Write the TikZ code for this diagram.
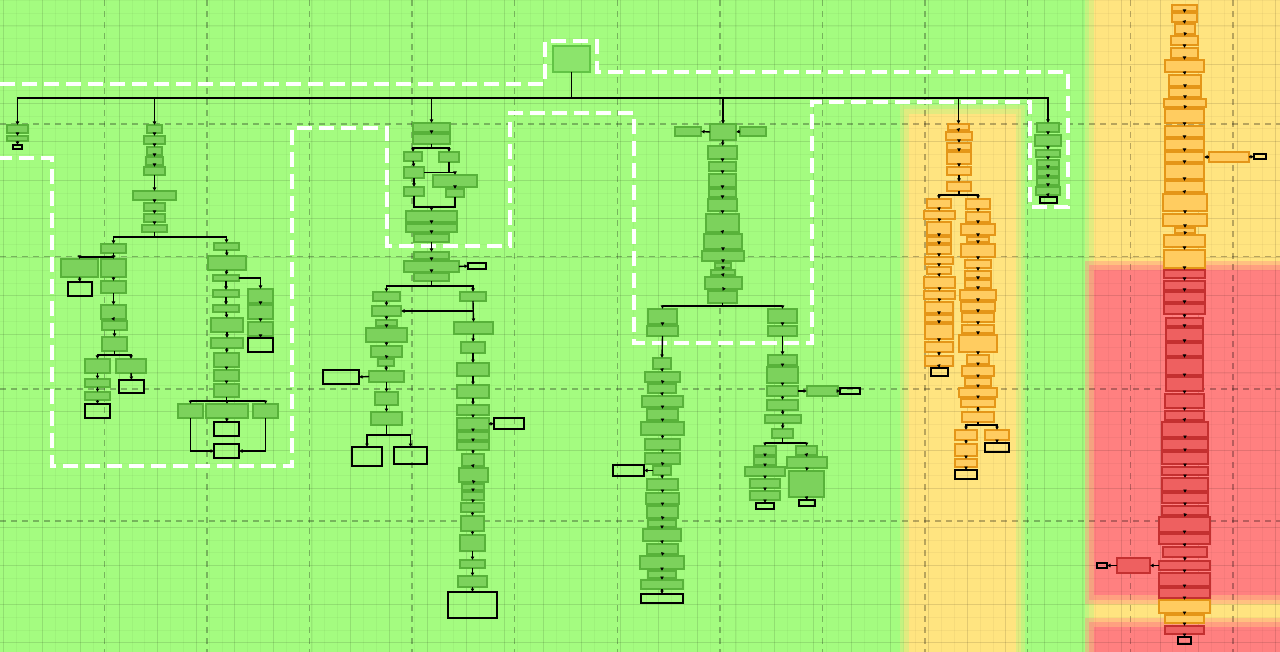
\documentclass[tikz,border=0pt]{standalone}
\usetikzlibrary{arrows.meta}
\definecolor{bgG}{RGB}{164,252,128}
\definecolor{zY}{RGB}{255,228,128}
\definecolor{zR}{RGB}{255,128,128}
\definecolor{ngF}{RGB}{124,210,92}
\definecolor{ngD}{RGB}{88,178,58}
\definecolor{noF}{RGB}{255,204,96}
\definecolor{noD}{RGB}{228,150,24}
\definecolor{nrF}{RGB}{238,96,96}
\definecolor{nrD}{RGB}{196,48,48}
\definecolor{rtF}{RGB}{140,228,108}
\definecolor{rtD}{RGB}{98,196,70}
\tikzset{
  nb/.style={inner sep=0pt, outer sep=0pt, line width=1.6pt},
  gN/.style={nb, fill=ngF, draw=ngD},
  oN/.style={nb, fill=noF, draw=noD},
  rN/.style={nb, fill=nrF, draw=nrD},
  tN/.style={nb, draw=black, line width=1.8pt},
  rootst/.style={nb, fill=rtF, draw=rtD, line width=2pt},
  arr/.style={draw=black, line width=1.4pt, -{Latex[length=3.5pt,width=4pt]}},
  ln/.style={draw=black, line width=1.4pt},
  fg/.style={draw=black, opacity=0.035, line width=0.8pt},
  mg/.style={draw=black, opacity=0.08, line width=1pt},
  dg/.style={draw=black, opacity=0.28, line width=1.5pt, dash pattern=on 6pt off 5pt},
  wdash/.style={draw=white, line width=4.5pt, dash pattern=on 15pt off 7pt}
}
\newcommand\stk[2]{%
  \foreach \sty/\xa/\ya/\xb/\yb [count=\i] in {#2} {%
    \node[\sty, minimum width={(\xb-\xa)*1pt}, minimum height={(\yb-\ya)*1pt}] (#1\i) at ({(\xa+\xb)/2},{(\ya+\yb)/2}) {};
    \ifnum\i>1 \pgfmathtruncatemacro\p{\i-1}\draw[arr] (#1\p.south) -- (#1\i.north);\fi
  }}
\newcommand\zone[5]{%
  \fill[#1,opacity=0.35] (#2-7,#3-7) rectangle (#4+7,#5+7);
  \fill[#1,opacity=0.5] (#2-3,#3-3) rectangle (#4+3,#5+3);
  \fill[#1] (#2+2,#3+2) rectangle (#4-2,#5-2);}
\begin{document}
\begin{tikzpicture}[x=1pt,y=-1pt]
\useasboundingbox (0,0) rectangle (1280,652);
\clip (0,0) rectangle (1280,652);
\fill[bgG] (0,0) rectangle (1280,652);
% zones
\zone{zY}{907}{112}{1018}{680}
\zone{zY}{1092}{-20}{1300}{680}
\zone{zR}{1092}{268}{1300}{597}
\zone{zR}{1092}{625}{1300}{680}
% grids
\foreach \i in {0,...,100} \draw[fg] ({3.5+12.85*\i},0) -- ++(0,652);
\foreach \j in {0,...,51} \draw[fg] (0,{0.3+12.85*\j}) -- ++(1280,0);
\foreach \i in {0,...,33} \draw[mg] ({3.5+38.55*\i},0) -- ++(0,652);
\foreach \j in {-1,...,16} \draw[mg] (0,{26+38.55*\j}) -- ++(1280,0);
\foreach \i in {0,...,11} \draw[dg] ({104.3+102.6*\i},0) -- ++(0,652);
\foreach \j in {0,...,3} \draw[dg] (0,{124+132.4*\j}) -- ++(1280,0);
% white dashed outline
\draw[wdash] (0,84) -- (545,84) -- (545,41) -- (597,41) -- (597,72) -- (1068,72) -- (1068,207) -- (1030,207) -- (1030,102) -- (812,102) -- (812,343) -- (634,343) -- (634,113) -- (510,113) -- (510,246) -- (387,246) -- (387,128) -- (292,128) -- (292,466) -- (52,466) -- (52,158) -- (0,158);
% root
\node[rootst, minimum width=37pt, minimum height=26pt] (root) at (571.5,59) {};
% column 1
\stk{c1n}{gN/7/125/28/133, gN/7/136/28/141, tN/13/145/22/149}
% column 2
\stk{c2m}{gN/147/125/162/133, gN/144/136/165/144, gN/147/147/162/155, gN/146/157/163/165, gN/144/167/165/175, gN/133/191/176/200, gN/144/203/165/211, gN/144/214/165/222, gN/142/225/167/232}
\stk{c2L}{gN/101/244/126/253}
\stk{c2LL}{gN/61/259/98/277, tN/68/282/92/296}
\stk{c2LR}{gN/101/259/126/277, gN/101/281/126/293, gN/101/305/126/319, gN/102/321/127/330, gN/102/337/127/351}
\stk{c2LRL}{gN/85/359/110/373, gN/85/379/110/387, gN/85/392/110/400, tN/85/404/110/418}
\stk{c2LRR}{gN/116/359/146/373, tN/119/380/144/393}
\stk{c2R}{gN/214/243/239/250, gN/208/256/246/270, gN/213/275/239/281, gN/213/290/239/297, gN/213/305/239/312, gN/211/318/243/332, gN/211/338/243/348, gN/214/353/239/367, gN/214/370/239/381, gN/214/384/239/397}
\stk{c2S}{gN/248/289/273/303, gN/248/305/273/319, gN/248/322/273/336, tN/248/338/273/352}
\stk{c2Xa}{gN/178/404/203/418}
\stk{c2Xb}{gN/206/404/248/418}
\stk{c2Xc}{gN/253/404/278/418}
\stk{c2Ta}{tN/214/422/239/436}
\stk{c2Tb}{tN/214/444/239/458}
\draw[arr] (c2m9.south) -- ++(0,5) -| (c2L1.north);
\draw[arr] (c2m9.south) -- ++(0,5) -| (c2R1.north);
\draw[arr] (c2L1.south) -- ++(0,4) -| (c2LL1.north);
\draw[arr] (c2L1.south) -- ++(0,4) -| (c2LR1.north);
\draw[arr] (c2LR5.south) -- ++(0,4) -| (c2LRL1.north);
\draw[arr] (c2LR5.south) -- ++(0,4) -| (c2LRR1.north);
\draw[arr] (c2R3.east) -| (c2S1.north);
\draw[arr] (c2R10.south) -- ++(0,4) -| (c2Xa1.north);
\draw[arr] (c2R10.south) -- ++(0,4) -| (c2Xb1.north);
\draw[arr] (c2R10.south) -- ++(0,4) -| (c2Xc1.north);
\draw[arr] (c2Xb1.south) -- (c2Ta1.north);
\draw[arr] (c2Xa1.south) |- (c2Tb1.west);
\draw[arr] (c2Xc1.south) |- (c2Tb1.east);
% column 3
\stk{c3a}{gN/413/123/450/132, gN/413/134/450/144}
\stk{c3La}{gN/404/152/422/161}
\stk{c3Ra}{gN/439/152/459/162}
\stk{c3Lb}{gN/404/167/424/178}
\stk{c3W}{gN/433/175/477/187, gN/446/189/464/197}
\stk{c3Lc}{gN/404/187/424/196}
\stk{c3M}{gN/406/211/457/222, gN/406/224/457/232, gN/414/234/449/242, gN/414/252/449/259, gN/404/261/459/272, gN/414/273/449/281}
\stk{c3t}{tN/468/263/486/269}
\stk{c3L}{gN/373/292/400/301, gN/372/306/401/316, gN/376/320/397/326, gN/366/328/407/342, gN/371/346/402/357, gN/378/359/394/366, gN/369/371/404/382, gN/375/392/398/405, gN/371/412/402/425}
\stk{c3tL}{tN/323/370/359/384}
\stk{c3tA}{tN/352/447/382/466}
\stk{c3tB}{tN/394/447/427/464}
\stk{c3R}{gN/460/292/486/301, gN/454/322/493/334, gN/461/342/485/353, gN/457/363/489/376, gN/457/385/489/398, gN/457/405/489/415, gN/457/418/489/430, gN/457/432/489/440, gN/457/442/489/450, gN/462/454/484/466, gN/459/468/488/482, gN/462/484/484/490, gN/462/492/484/500, gN/461/503/484/512, gN/461/516/484/531, gN/460/535/485/551, gN/460/560/485/568, gN/458/576/487/587, tN/448/592/497/618}
\stk{c3tR}{tN/494/418/524/429}
\draw[arr] (c3a2.south) -- ++(0,4) -| (c3La1.north);
\draw[arr] (c3a2.south) -- ++(0,4) -| (c3Ra1.north);
\draw[arr] (c3La1.south) -- (c3Lb1.north);
\draw[arr] (c3Lb1.south) -- (c3Lc1.north);
\draw[arr] (c3Lb1.east) -| (c3W1.north);
\draw[ln] (c3Ra1.south) -- (c3Ra1.south |- c3Lb1.east);
\coordinate (c3j) at (431.5,207);
\draw[ln] (c3Lc1.south) |- (c3j);
\draw[ln] (c3W2.south) |- (c3j);
\draw[arr] (c3j) -- (c3M1.north);
\draw[arr] (c3M5.east) -- (c3t1.west);
\draw[arr] (c3M6.south) -- ++(0,5) -| (c3L1.north);
\draw[arr] (c3M6.south) -- ++(0,5) -| (c3R1.north);
\draw[arr] (c3L7.west) -- (c3tL1.east);
\draw[arr] (c3L9.south) -- ++(0,10) -| (c3tA1.north);
\draw[arr] (c3L9.south) -- ++(0,10) -| (c3tB1.north);
\draw[arr] (c3R1.south |- c3L2.east) -- (c3L2.east);
\draw[arr] (c3R7.east) -- (c3tR1.west);
% column 4
\stk{c4a}{gN/710/124/736/140, gN/708/146/737/159, gN/709/162/736/171, gN/709/174/736/187, gN/709/189/736/197, gN/708/199/737/211, gN/706/214/739/232, gN/704/234/742/249, gN/702/251/744/261, gN/715/263/731/268, gN/711/270/735/275, gN/705/277/742/289, gN/708/291/737/303}
\stk{c4s}{gN/675/127/701/136}
\stk{c4u}{gN/740/127/766/136}
\stk{c4L}{gN/648/309/677/324, gN/647/326/678/336, gN/653/358/671/369, gN/645/372/680/382, gN/648/384/676/393, gN/642/396/683/407, gN/647/409/678/420, gN/641/422/684/435, gN/645/439/680/450, gN/645/453/680/464, gN/653/466/671/475, gN/647/479/678/490, gN/646/493/679/504, gN/647/506/678/518, gN/648/520/676/527, gN/643/529/681/541, gN/647/544/678/554, gN/640/556/684/569, gN/648/571/676/578, gN/641/580/683/589, tN/641/594/683/603}
\stk{c4tL}{tN/613/465/644/476}
\stk{c4R}{gN/768/309/797/323, gN/768/326/797/336, gN/768/355/797/365, gN/767/367/798/383, gN/767/386/798/396, gN/767/400/798/410, gN/765/415/801/423, gN/772/429/793/438}
\stk{c4v}{gN/807/386/838/396}
\stk{c4tR}{tN/840/388/860/394}
\stk{c4RL}{gN/754/446/776/455, gN/754/457/776/465, gN/745/467/785/476, gN/750/479/780/488, gN/750/491/780/500, tN/756/503/774/509}
\stk{c4RR}{gN/796/446/817/455, gN/787/457/827/468, gN/789/471/824/497, tN/799/500/815/506}
\draw[arr] (c4a1.west) -- (c4s1.east);
\draw[arr] (c4u1.west) -- (c4a1.east);
\draw[arr] (c4a13.south) -- ++(0,3) -| (c4L1.north);
\draw[arr] (c4a13.south) -- ++(0,3) -| (c4R1.north);
\draw[arr] (c4L11.west) -- (c4tL1.east);
\draw[arr] (c4R5.east) -- (c4v1.west);
\draw[arr] (c4v1.east) -- (c4tR1.west);
\draw[arr] (c4R8.south) -- ++(0,5) -| (c4RL1.north);
\draw[arr] (c4R8.south) -- ++(0,5) -| (c4RR1.north);
% column 5
\stk{c5a}{oN/948/124/969/130, oN/946/132/972/140, oN/947/143/971/150, oN/947/152/971/164, oN/947/167/971/175, oN/947/182/971/191}
\stk{c5L}{oN/927/199/951/208, oN/924/211/955/219, oN/927/222/951/235, oN/927/237/951/243, oN/927/245/951/254, oN/925/257/953/264, oN/927/267/951/274, oN/924/277/955/288, oN/924/291/955/299, oN/925/302/953/313, oN/925/315/953/322, oN/925/324/953/339, oN/925/342/953/352, oN/925/356/953/366, tN/931/368/948/376}
\stk{c5R}{oN/966/199/990/209, oN/966/212/990/222, oN/961/224/995/235, oN/967/237/989/242, oN/961/244/995/257, oN/965/260/991/268, oN/965/271/991/278, oN/965/280/991/288, oN/960/290/996/300, oN/961/302/995/311, oN/962/313/994/322, oN/962/325/994/333, oN/959/335/997/352, oN/967/355/989/364, oN/962/366/994/376, oN/965/378/991/386, oN/959/388/997/397, oN/961/399/995/407, oN/962/412/994/422}
\stk{c5RL}{oN/955/430/977/440, oN/955/444/977/456, oN/955/459/977/467, tN/955/470/977/479}
\stk{c5RR}{oN/985/430/1009/440, tN/985/443/1009/452}
\draw[arr] (c5a6.south) -- ++(0,4) -| (c5L1.north);
\draw[arr] (c5a6.south) -- ++(0,4) -| (c5R1.north);
\draw[arr] (c5R19.south) -- ++(0,3) -| (c5RL1.north);
\draw[arr] (c5R19.south) -- ++(0,3) -| (c5RR1.north);
% column 6
\stk{c6n}{gN/1037/123/1059/132, gN/1035/135/1061/146, gN/1036/150/1060/157, gN/1037/160/1059/167, gN/1037/169/1059/176, gN/1037/178/1059/185, gN/1036/187/1060/195, tN/1040/197/1057/203}
% column 7
\stk{c7n}{oN/1172/5/1197/11, oN/1172/13/1197/22, oN/1175/24/1195/34, oN/1171/36/1198/45, oN/1171/48/1198/58, oN/1165/60/1204/72, oN/1169/75/1201/86, oN/1169/88/1201/97, oN/1164/99/1206/107, oN/1165/109/1204/123, oN/1165/126/1204/137, oN/1165/139/1204/150, oN/1165/152/1204/162, oN/1165/164/1204/179, oN/1165/181/1204/192, oN/1163/194/1207/211, oN/1163/214/1207/226, oN/1175/228/1195/233, oN/1164/235/1205/247, oN/1164/250/1205/268, rN/1164/270/1205/278, rN/1164/281/1205/290, rN/1164/292/1205/302, rN/1164/304/1205/314, rN/1166/318/1203/326, rN/1166/328/1203/341, rN/1166/343/1203/356, rN/1166/358/1203/375, rN/1166/377/1203/391, rN/1165/394/1204/408, rN/1165/411/1204/420, rN/1162/422/1208/437, rN/1162/439/1208/450, rN/1162/452/1208/464, rN/1162/467/1208/475, rN/1162/478/1208/491, rN/1162/493/1208/503, rN/1162/506/1208/515, rN/1159/517/1210/532, rN/1159/534/1210/544, rN/1163/547/1207/557, rN/1159/561/1210/570, rN/1159/573/1210/586, rN/1159/588/1210/598, oN/1159/600/1210/613, oN/1165/615/1204/623, rN/1165/626/1204/634, tN/1178/637/1191/644}
\stk{c7s}{oN/1209/152/1249/162}
\stk{c7t}{tN/1254/154/1266/159}
\stk{c7q}{rN/1117/558/1150/573}
\stk{c7u}{tN/1097/563/1107/568}
\draw[arr] (c7s1.west) -- (c7n13.east);
\draw[arr] (c7s1.east) -- (c7t1.west);
\draw[arr] (c7n42.west) -- (c7q1.east);
\draw[arr] (c7q1.west) -- (c7u1.east);
% root to branches
\foreach \n in {c1n1, c2m1, c3a1, c4a1, c5a1, c6n1}
  \draw[arr] (root.south) -- ++(0,26) -| (\n.north);
\end{tikzpicture}
\end{document}
